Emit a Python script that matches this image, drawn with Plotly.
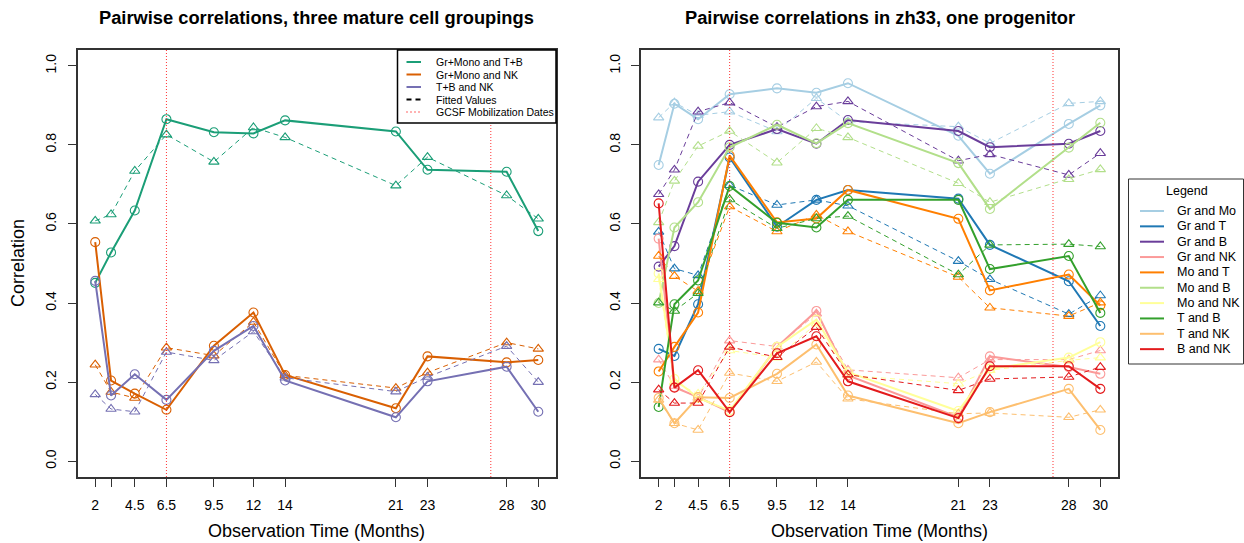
import plotly.graph_objects as go

# ---------------- data ----------------
times = [2, 3, 4.5, 6.5, 9.5, 12, 14, 21, 23, 28, 30]
tick_labels = ["2", "", "4.5", "6.5", "9.5", "12", "14", "21", "23", "28", "30"]
gcsf_dates = [6.5, 27]

# Left panel: three mature cell groupings
grmono_tb_obs = [0.451, 0.528, 0.634, 0.865, 0.832, 0.829, 0.862, 0.834, 0.737, 0.732, 0.582]
grmono_tb_fit = [0.608, 0.624, 0.734, 0.826, 0.757, 0.844, 0.819, 0.697, 0.769, 0.672, 0.613]
grmono_nk_obs = [0.554, 0.204, 0.171, 0.130, 0.292, 0.376, 0.218, 0.134, 0.265, 0.250, 0.256]
grmono_nk_fit = [0.244, 0.175, 0.160, 0.287, 0.267, 0.352, 0.217, 0.185, 0.224, 0.300, 0.284]
tb_nk_obs = [0.456, 0.166, 0.220, 0.155, 0.279, 0.342, 0.204, 0.111, 0.202, 0.239, 0.125]
tb_nk_fit = [0.169, 0.132, 0.125, 0.276, 0.255, 0.328, 0.211, 0.176, 0.213, 0.291, 0.200]

left_names = ["Gr+Mono and T+B", "Gr+Mono and NK", "T+B and NK"]
left_colors = ["#1B9E77", "#D95F02", "#7570B3"]

# Right panel: zh33, one progenitor
gr_mo_obs = [0.749, 0.904, 0.865, 0.928, 0.943, 0.932, 0.956, 0.823, 0.727, 0.853, 0.900]
gr_mo_fit = [0.869, 0.907, 0.875, 0.884, 0.834, 0.918, 0.859, 0.846, 0.804, 0.905, 0.910]
gr_t_obs = [0.284, 0.266, 0.397, 0.768, 0.593, 0.661, 0.686, 0.664, 0.547, 0.455, 0.342]
gr_t_fit = [0.580, 0.487, 0.470, 0.698, 0.648, 0.661, 0.646, 0.506, 0.460, 0.372, 0.419]
gr_b_obs = [0.492, 0.544, 0.707, 0.800, 0.840, 0.803, 0.863, 0.835, 0.794, 0.803, 0.835]
gr_b_fit = [0.675, 0.737, 0.884, 0.907, 0.845, 0.897, 0.910, 0.760, 0.776, 0.724, 0.779]
gr_nk_obs = [0.563, 0.187, 0.162, 0.124, 0.289, 0.380, 0.217, 0.111, 0.265, 0.238, 0.221]
gr_nk_fit = [0.257, 0.190, 0.160, 0.305, 0.290, 0.373, 0.231, 0.211, 0.257, 0.257, 0.280]
mo_t_obs = [0.227, 0.289, 0.376, 0.773, 0.604, 0.614, 0.686, 0.613, 0.432, 0.472, 0.394]
mo_t_fit = [0.519, 0.468, 0.430, 0.644, 0.581, 0.623, 0.581, 0.466, 0.388, 0.367, 0.401]
mo_b_obs = [0.400, 0.591, 0.655, 0.794, 0.851, 0.804, 0.855, 0.754, 0.638, 0.793, 0.856]
mo_b_fit = [0.604, 0.709, 0.797, 0.835, 0.755, 0.842, 0.819, 0.703, 0.655, 0.713, 0.738]
mo_nk_obs = [0.475, 0.208, 0.160, 0.128, 0.289, 0.358, 0.225, 0.127, 0.234, 0.262, 0.301]
mo_nk_fit = [0.460, 0.200, 0.170, 0.280, 0.262, 0.348, 0.217, 0.196, 0.230, 0.255, 0.262]
t_b_obs = [0.137, 0.397, 0.457, 0.696, 0.603, 0.591, 0.661, 0.661, 0.486, 0.519, 0.375]
t_b_fit = [0.401, 0.380, 0.425, 0.662, 0.589, 0.614, 0.620, 0.472, 0.547, 0.549, 0.543]
t_nk_obs = [0.160, 0.096, 0.162, 0.160, 0.221, 0.295, 0.166, 0.096, 0.124, 0.183, 0.079]
t_nk_fit = [0.155, 0.096, 0.079, 0.223, 0.202, 0.251, 0.158, 0.120, 0.122, 0.111, 0.130]
b_nk_obs = [0.652, 0.186, 0.230, 0.124, 0.273, 0.316, 0.202, 0.109, 0.240, 0.240, 0.183]
b_nk_fit = [0.181, 0.147, 0.147, 0.289, 0.263, 0.339, 0.219, 0.179, 0.208, 0.213, 0.238]

right_names = ["Gr and Mo", "Gr and T", "Gr and B", "Gr and NK", "Mo and T",
               "Mo and B", "Mo and NK", "T and B", "T and NK", "B and NK"]
right_colors = ["#A6CEE3", "#1F78B4", "#6A3D9A", "#FB9A99", "#FF7F00",
                "#B2DF8A", "#FFFF99", "#33A02C", "#FDBF6F", "#E31A1C"]

left_obs = [grmono_tb_obs, grmono_nk_obs, tb_nk_obs]
left_fit = [grmono_tb_fit, grmono_nk_fit, tb_nk_fit]
right_obs = [gr_mo_obs, gr_t_obs, gr_b_obs, gr_nk_obs, mo_t_obs,
             mo_b_obs, mo_nk_obs, t_b_obs, t_nk_obs, b_nk_obs]
right_fit = [gr_mo_fit, gr_t_fit, gr_b_fit, gr_nk_fit, mo_t_fit,
             mo_b_fit, mo_nk_fit, t_b_fit, t_nk_fit, b_nk_fit]

FONT = "Liberation Sans, Arial, Helvetica, sans-serif"
W, H = 1244, 543
DOT = "rgba(255,0,0,0.8)"

# panel boxes in pixels (left, right, top, bottom)
LBOX = (77.5, 556.0, 50.0, 477.0)
RBOX = (641.0, 1118.0, 50.0, 477.0)


def px(x):
    return x / W


def py(y):
    return 1 - y / H


fig = go.Figure()


def add_series(obs, fit, color, xa, ya):
    fig.add_trace(go.Scatter(
        x=times, y=fit, mode="lines+markers", xaxis=xa, yaxis=ya,
        line=dict(color=color, width=1, dash="5px,4px"),
        marker=dict(symbol="triangle-up-open", size=9, color=color, line=dict(width=1.1)),
        showlegend=False, hoverinfo="skip"))
    fig.add_trace(go.Scatter(
        x=times, y=obs, mode="lines+markers", xaxis=xa, yaxis=ya,
        line=dict(color=color, width=2),
        marker=dict(symbol="circle-open", size=9, color=color, line=dict(width=1.1)),
        showlegend=False, hoverinfo="skip"))


for o, f, c in zip(left_obs, left_fit, left_colors):
    add_series(o, f, c, "x", "y")
for o, f, c in zip(right_obs, right_fit, right_colors):
    add_series(o, f, c, "x2", "y2")

shapes = []
annotations = []

# GCSF vertical lines
for xr, yr in [("x", "y"), ("x2", "y2")]:
    for d in gcsf_dates:
        shapes.append(dict(type="line", xref=xr, yref=yr + " domain", x0=d, x1=d, y0=0, y1=1,
                           line=dict(color=DOT, width=1, dash="1px,2px"), layer="above"))

# ---------- left legend (drawn manually, R style) ----------
lg_l, lg_r, lg_t, lg_b = 397.5, 556.0, 50.0, 123.0
shapes.append(dict(type="rect", xref="paper", yref="paper", x0=px(lg_l), x1=px(lg_r),
                   y0=py(lg_b), y1=py(lg_t), line=dict(color="black", width=1.5),
                   fillcolor="white", layer="above"))
left_leg_items = [(n, c, 2, "solid") for n, c in zip(left_names, left_colors)]
left_leg_items.append(("Fitted Values", "black", 2, "5px,4px"))
left_leg_items.append(("GCSF Mobilization Dates", DOT, 1.5, "1px,3px"))
for i, (name, col, w, dash) in enumerate(left_leg_items):
    yy = 62.0 + i * 12.5
    shapes.append(dict(type="line", xref="paper", yref="paper", x0=px(406.5), x1=px(421),
                       y0=py(yy), y1=py(yy), line=dict(color=col, width=w, dash=dash),
                       layer="above"))
    annotations.append(dict(text=name, x=px(434), y=py(yy), xref="paper", yref="paper",
                            showarrow=False, xanchor="left", yanchor="middle",
                            font=dict(family=FONT, size=10.5, color="black")))

# ---------- right legend ----------
rg_l, rg_r, rg_t, rg_b = 1128.5, 1243.5, 179.0, 364.0
shapes.append(dict(type="rect", xref="paper", yref="paper", x0=px(rg_l), x1=px(rg_r),
                   y0=py(rg_b), y1=py(rg_t), line=dict(color="#333333", width=1),
                   fillcolor="white", layer="above"))
annotations.append(dict(text="Legend", x=px(1186.5), y=py(191), xref="paper", yref="paper",
                        showarrow=False, xanchor="center", yanchor="middle",
                        font=dict(family=FONT, size=12.5, color="black")))
for i, (name, col) in enumerate(zip(right_names, right_colors)):
    yy = 211.0 + i * 15.35
    shapes.append(dict(type="line", xref="paper", yref="paper", x0=px(1140), x1=px(1164),
                       y0=py(yy), y1=py(yy), line=dict(color=col, width=2), layer="above"))
    annotations.append(dict(text=name, x=px(1175), y=py(yy), xref="paper", yref="paper",
                            showarrow=False, xanchor="left", yanchor="middle",
                            font=dict(family=FONT, size=12.5, color="black")))

# ---------- titles ----------
lc = (LBOX[0] + LBOX[1]) / 2
rc = (RBOX[0] + RBOX[1]) / 2
annotations += [
    dict(text="<b>Pairwise correlations, three mature cell groupings</b>", x=px(lc), y=py(17),
         xref="paper", yref="paper", showarrow=False, font=dict(family=FONT, size=18.3),
         xanchor="center", yanchor="middle"),
    dict(text="<b>Pairwise correlations in zh33, one progenitor</b>", x=px(rc), y=py(17),
         xref="paper", yref="paper", showarrow=False, font=dict(family=FONT, size=18.3),
         xanchor="center", yanchor="middle"),
    dict(text="Observation Time (Months)", x=px(lc), y=py(531), xref="paper", yref="paper",
         showarrow=False, font=dict(family=FONT, size=18), xanchor="center", yanchor="middle"),
    dict(text="Observation Time (Months)", x=px(rc), y=py(531), xref="paper", yref="paper",
         showarrow=False, font=dict(family=FONT, size=18), xanchor="center", yanchor="middle"),
    dict(text="Correlation", x=px(18), y=py(263), xref="paper", yref="paper", textangle=-90,
         showarrow=False, font=dict(family=FONT, size=18), xanchor="center", yanchor="middle"),
]

xcommon = dict(range=[0.88, 31.12], tickmode="array", tickvals=times, ticktext=tick_labels,
               ticks="outside", ticklen=8, tickcolor="#333333", showline=True, linecolor="#333333",
               linewidth=1.5, mirror=True, showgrid=False, zeroline=False,
               tickfont=dict(family=FONT, size=14, color="black"), ticklabelstandoff=6)
ycommon = dict(range=[-0.04, 1.04], tickmode="array", tickvals=[0, 0.2, 0.4, 0.6, 0.8, 1.0],
               ticktext=["0.0", "0.2", "0.4", "0.6", "0.8", "1.0"], tickangle=-90,
               ticks="outside", ticklen=8, tickcolor="#333333", showline=True, linecolor="#333333",
               linewidth=1.5, mirror=True, showgrid=False, zeroline=False,
               tickfont=dict(family=FONT, size=14, color="black"), ticklabelstandoff=6)

fig.update_layout(
    width=W, height=H, margin=dict(l=0, r=0, t=0, b=0),
    paper_bgcolor="white", plot_bgcolor="white",
    font=dict(family=FONT, color="black"),
    showlegend=False,
    xaxis=dict(domain=[px(LBOX[0]), px(LBOX[1])], anchor="y", **xcommon),
    yaxis=dict(domain=[py(LBOX[3]), py(LBOX[2])], anchor="x", **ycommon),
    xaxis2=dict(domain=[px(RBOX[0]), px(RBOX[1])], anchor="y2", **xcommon),
    yaxis2=dict(domain=[py(RBOX[3]), py(RBOX[2])], anchor="x2", **ycommon),
    shapes=shapes,
    annotations=annotations,
)

fig.write_html("out.html")
